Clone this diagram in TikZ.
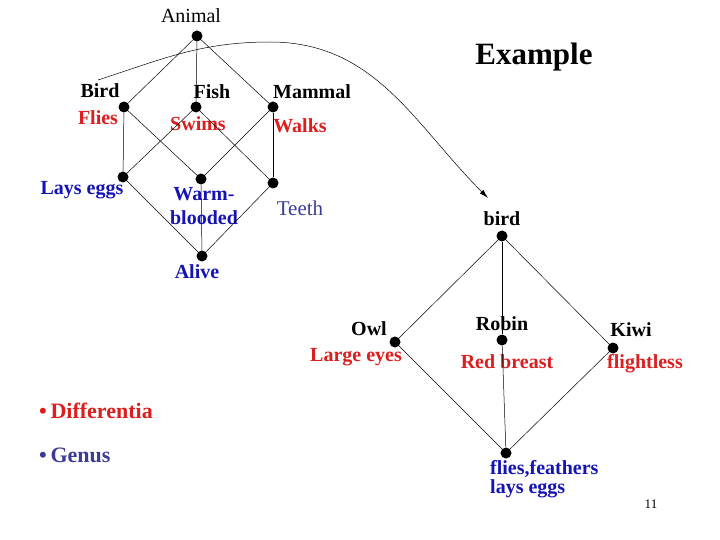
\documentclass[tikz,border=0pt]{standalone}
\usepackage{fontspec}
\setmainfont{Liberation Serif}
\usetikzlibrary{arrows.meta}

\definecolor{diffred}{RGB}{220,30,30}
\definecolor{genblue}{RGB}{20,20,180}
\definecolor{teethblue}{RGB}{60,60,150}

\begin{document}
\begin{tikzpicture}[
    x=1pt, y=-1pt,
    dot/.style={circle, fill=black, inner sep=0pt, minimum size=11pt},
    tag/.style={font=\bfseries\fontsize{20}{19}\selectfont, inner sep=0pt},
    diff/.style={tag, text=diffred},
    gen/.style={tag, text=genblue, align=center},
    link/.style={line width=0.5pt}
]
    \useasboundingbox (0,0) rectangle (720,540);

    % left lattice
    \node [font=\fontsize{20}{21}\selectfont, inner sep=0pt] (animaltxt) at (191,16) {Animal};
    \node [dot] (animal) at (197,36) {};
    \node [dot] (bird) at (124,107) {};
    \node [dot] (fish) at (196,107) {};
    \node [dot] (mammal) at (273,107) {};
    \node [dot] (lays) at (123,177) {};
    \node [dot] (warm) at (201,179) {};
    \node [dot] (teeth) at (273,183) {};
    \node [dot] (alive) at (202,256) {};

    \node [tag] (birdtxt) at (100,91) {Bird};
    \node [diff] (fliestxt) at (98,118) {Flies};
    \node [tag] (fishtxt) at (212,92) {Fish};
    \node [diff] (swimstxt) at (198,124) {Swims};
    \node [tag] (mammaltxt) at (312,92) {Mammal};
    \node [diff] (walkstxt) at (300,126) {Walks};
    \node [gen] (laystxt) at (82,190) {Lays eggs};
    \node [gen] (warmtxt) at (204,206) {Warm-\\[5pt]blooded};
    \node [font=\fontsize{21}{22}\selectfont, text=teethblue, inner sep=0pt] (teethtxt) at (300,208) {Teeth};
    \node [gen] (alivetxt) at (197,272) {Alive};

    \draw [link] (animal) -- (bird);
    \draw [link] (animal) -- (fish);
    \draw [link] (animal) -- (mammal);
    \draw [link] (bird) -- (lays);
    \draw [link] (bird) -- (warm);
    \draw [link] (fish) -- (lays);
    \draw [link] (fish) -- (teeth);
    \draw [link] (mammal) -- (warm);
    \draw [link] (mammal) -- (teeth);
    \draw [link] (lays) -- (alive);
    \draw [link] (warm) -- (alive);
    \draw [link] (teeth) -- (alive);

    % arrow to the example
    \coordinate (cstart) at (98,80);
    \coordinate (cpeak) at (270,42);
    \coordinate (cend) at (488,198);
    \draw [link, -{Latex[length=9pt,width=5pt]}] (cstart) to[out=18, in=180] (cpeak) to[out=0, in=135] (cend);

    \node [font=\bfseries\fontsize{31}{32}\selectfont, inner sep=0pt] (title) at (534,57) {Example};

    % right lattice
    \node [dot] (top) at (502,236) {};
    \node [dot] (owl) at (395,342) {};
    \node [dot] (robin) at (502,340) {};
    \node [dot] (kiwi) at (613,348) {};
    \node [dot] (bottom) at (506,453) {};

    \node [tag] (toptxt) at (502,219) {bird};
    \node [tag] (owltxt) at (369,329) {Owl};
    \node [diff] (eyestxt) at (356,357) {Large eyes};
    \node [tag] (robintxt) at (502,324) {Robin};
    \node [diff] (breasttxt) at (507,362) {Red breast};
    \node [tag] (kiwitxt) at (631,330) {Kiwi};
    \node [diff] (flighttxt) at (645,364) {flightless};
    \node [gen, align=left, anchor=north west] (bottomtxt) at (490,460) {flies,feathers\\lays eggs};

    \draw [link] (top) -- (owl);
    \draw [link] (top) -- (robin);
    \draw [link] (top) -- (kiwi);
    \draw [link] (owl) -- (bottom);
    \draw [link] (robin) -- (bottom);
    \draw [link] (kiwi) -- (bottom);

    % legend
    \node [font=\bfseries\fontsize{22}{23}\selectfont, text=diffred, anchor=west, inner sep=0pt] (differ) at (39,411) {\textbullet\,Differentia};
    \node [font=\bfseries\fontsize{22}{23}\selectfont, text=teethblue, anchor=west, inner sep=0pt] (genus) at (39,455) {\textbullet\,Genus};
    \node [font=\fontsize{13}{14}\selectfont, inner sep=0pt] (page) at (651,504) {11};
\end{tikzpicture}
\end{document}
